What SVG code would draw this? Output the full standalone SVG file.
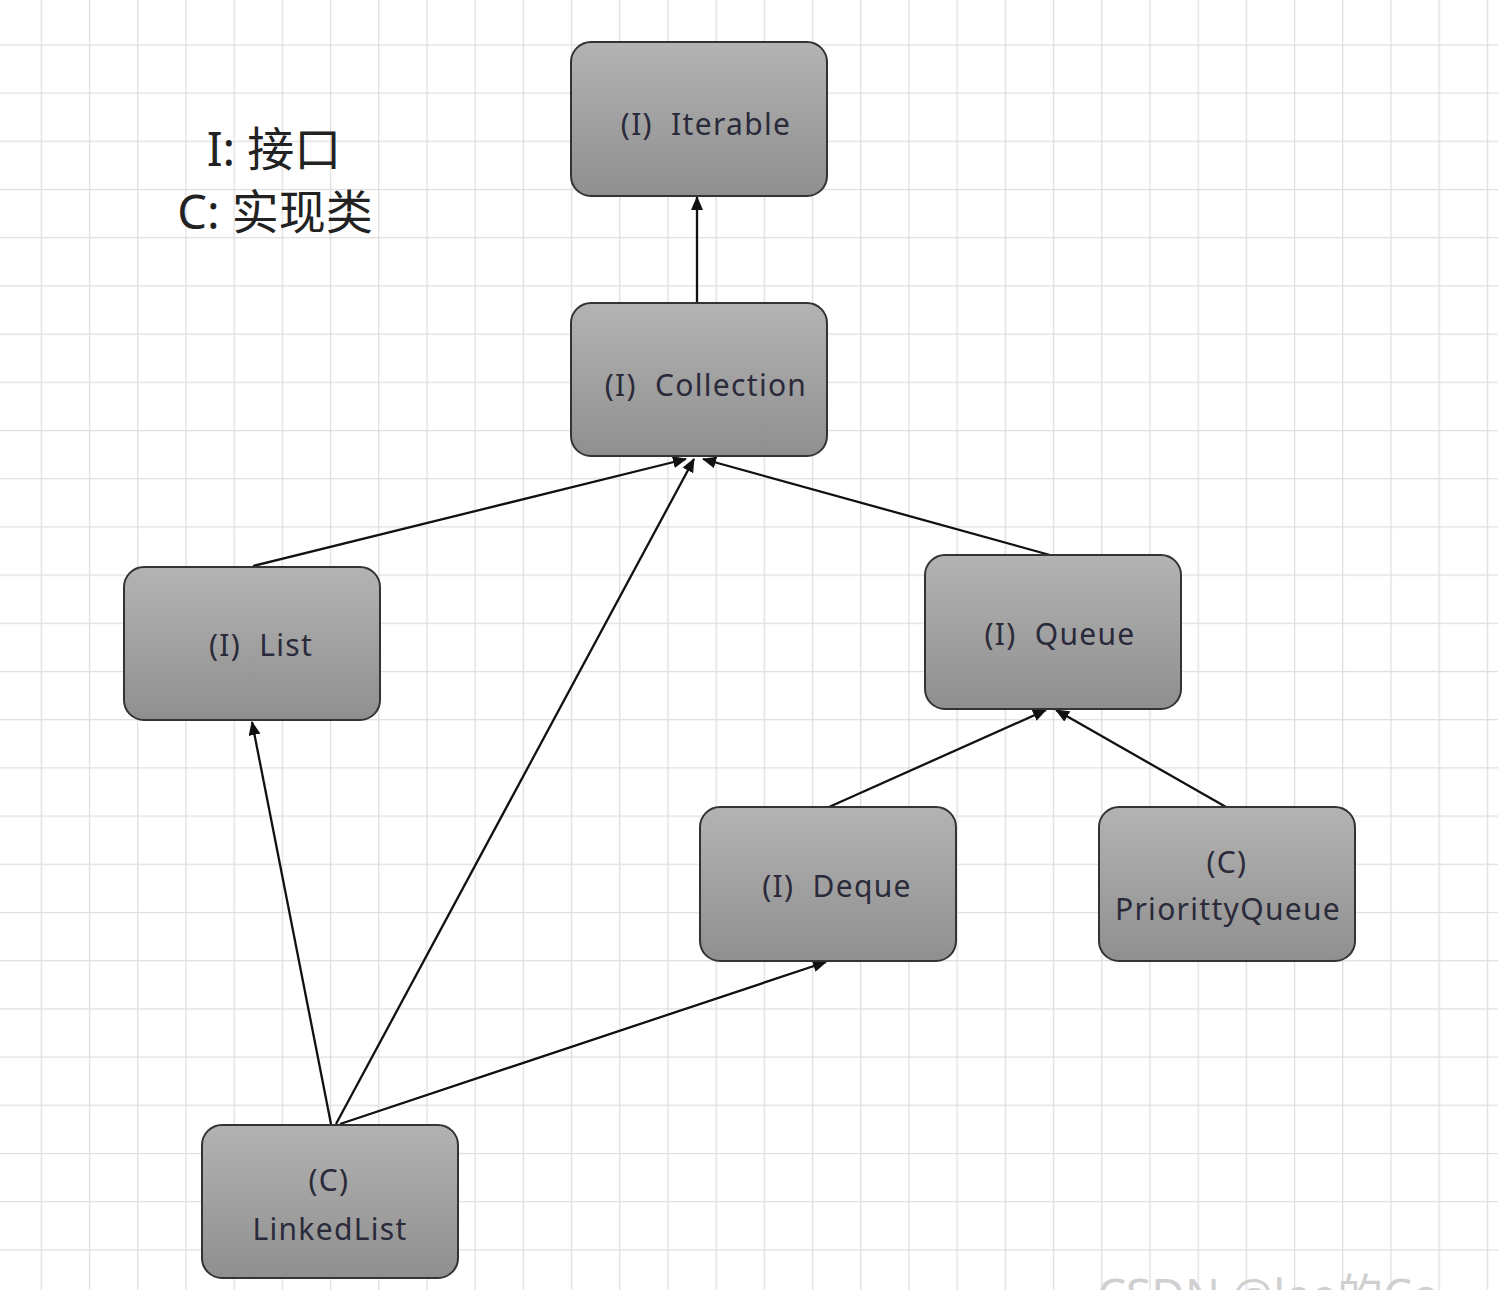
<svg xmlns="http://www.w3.org/2000/svg" width="1498" height="1290" viewBox="0 0 1498 1290">
<defs>
  <pattern id="grid" x="40.7" y="44.3" width="48.2" height="48.2" patternUnits="userSpaceOnUse">
    <path d="M0 0V48.2M0 0H48.2" fill="none" stroke="#dedede" stroke-width="2.6"/>
  </pattern>
  <linearGradient id="nodeFill" x1="0" y1="0" x2="0" y2="1">
    <stop offset="0" stop-color="#b3b3b3"/>
    <stop offset="1" stop-color="#8f8f8f"/>
  </linearGradient>
  <marker id="arrow" viewBox="0 0 14 12" refX="13" refY="6" markerWidth="14" markerHeight="12" markerUnits="userSpaceOnUse" orient="auto">
    <path d="M0 0L14 6L0 12z" fill="#111"/>
  </marker>
</defs>
<style>
  .box { fill: url(#nodeFill); stroke: #333; stroke-width: 2; }
  .lbl { font-family: "Noto Sans", "Open Sans", "Noto Sans CJK SC", sans-serif; font-size: 30px; fill: #2a2a3a; text-anchor: middle; letter-spacing: 1.3px; }
  .legend { font-family: "Noto Sans", "Noto Sans CJK SC", sans-serif; font-size: 47px; fill: #222; text-anchor: middle; }
  .edge { stroke: #111; stroke-width: 2.3; fill: none; marker-end: url(#arrow); }
</style>
<rect width="1498" height="1290" fill="#ffffff"/>
<rect width="1498" height="1290" fill="url(#grid)"/>

<g id="legend">
  <text class="legend" x="274" y="166">I: 接口</text>
  <text class="legend" x="275" y="229">C: 实现类</text>
</g>

<g id="connectors">
  <line class="edge" x1="697" y1="303" x2="697" y2="197"/>
  <line class="edge" x1="253" y1="566" x2="686" y2="459"/>
  <line class="edge" x1="336" y1="1124" x2="694" y2="459"/>
  <line class="edge" x1="1050" y1="555" x2="703" y2="459"/>
  <line class="edge" x1="331" y1="1124" x2="252" y2="722"/>
  <line class="edge" x1="340" y1="1124" x2="826" y2="962"/>
  <line class="edge" x1="829" y1="807" x2="1046" y2="710"/>
  <line class="edge" x1="1226" y1="807" x2="1056" y2="710"/>
</g>

<g id="node-iterable">
  <rect class="box" x="571" y="42" width="256" height="154" rx="20"/>
  <text class="lbl" x="706" y="135" xml:space="preserve">(I)  Iterable</text>
</g>
<g id="node-collection">
  <rect class="box" x="571" y="303" width="256" height="153" rx="20"/>
  <text class="lbl" x="706" y="396" xml:space="preserve">(I)  Collection</text>
</g>
<g id="node-list">
  <rect class="box" x="124" y="567" width="256" height="153" rx="20"/>
  <text class="lbl" x="261" y="656" xml:space="preserve">(I)  List</text>
</g>
<g id="node-queue">
  <rect class="box" x="925" y="555" width="256" height="154" rx="20"/>
  <text class="lbl" x="1060" y="645" xml:space="preserve">(I)  Queue</text>
</g>
<g id="node-deque">
  <rect class="box" x="700" y="807" width="256" height="154" rx="20"/>
  <text class="lbl" x="837" y="897" xml:space="preserve">(I)  Deque</text>
</g>
<g id="node-priorityqueue">
  <rect class="box" x="1099" y="807" width="256" height="154" rx="20"/>
  <text class="lbl" x="1227" y="873">(C)</text>
  <text class="lbl" x="1228" y="920">PriorittyQueue</text>
</g>
<g id="node-linkedlist">
  <rect class="box" x="202" y="1125" width="256" height="153" rx="20"/>
  <text class="lbl" x="329" y="1191">(C)</text>
  <text class="lbl" x="330" y="1240">LinkedList</text>
</g>

<g id="watermark">
  <text x="1097" y="1312" font-family="Noto Sans, Noto Sans CJK SC, sans-serif" font-size="46" fill="#d0d0d0">CSDN @lee的Co</text>
</g>
</svg>
